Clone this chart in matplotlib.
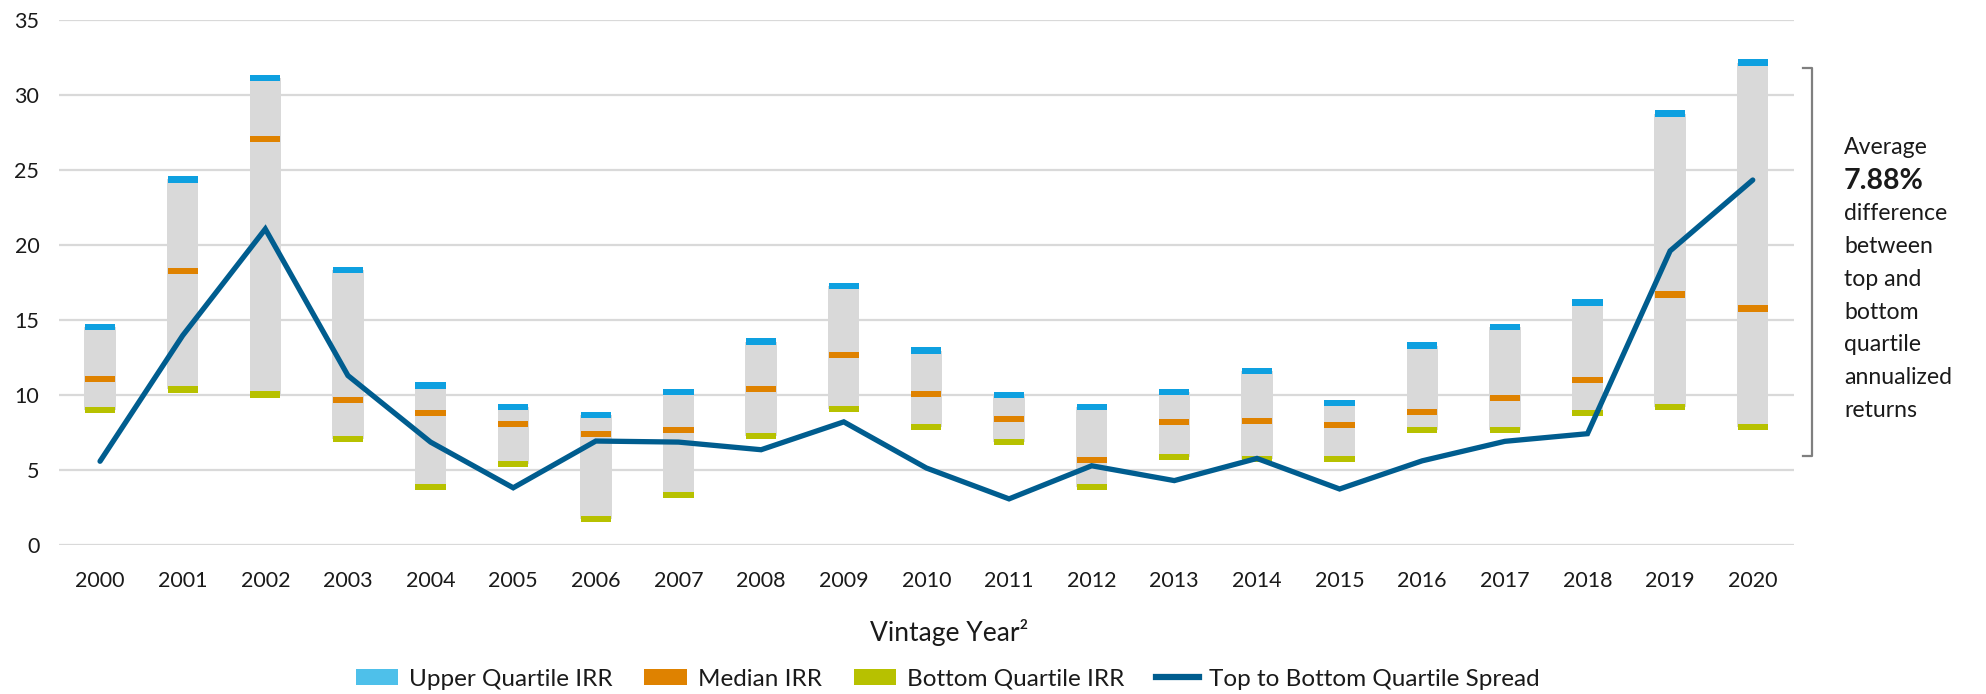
import matplotlib
matplotlib.use("Agg")
import matplotlib.pyplot as plt
import matplotlib.transforms as mtransforms
from matplotlib.patches import Patch
from matplotlib.lines import Line2D
import numpy as np

plt.rcParams['font.family'] = ['Lato', 'DejaVu Sans']

years = ['2000', '2001', '2002', '2003', '2004', '2005', '2006', '2007', '2008', '2009', '2010',
         '2011', '2012', '2013', '2014', '2015', '2016', '2017', '2018', '2019', '2020']
upper_irr = [14.54, 24.37, 31.14, 18.32, 10.62, 9.16, 8.64, 10.16, 13.55, 17.27, 12.95,
             9.96, 9.16, 10.16, 11.57, 9.43, 13.28, 14.54, 16.15, 28.76, 32.17]
median_irr = [11.03, 18.25, 27.08, 9.63, 8.78, 8.03, 7.37, 7.64, 10.36, 12.63, 10.03,
              8.38, 5.64, 8.17, 8.24, 7.98, 8.86, 9.76, 10.97, 16.69, 15.75]
bottom_irr = [8.97, 10.35, 10.02, 7.04, 3.85, 5.37, 1.73, 3.32, 7.26, 9.06, 7.83,
              6.85, 3.86, 5.86, 5.72, 5.72, 7.66, 7.66, 8.78, 9.19, 7.84]
spread = [5.56, 13.95, 21.06, 11.28, 6.84, 3.79, 6.91, 6.84, 6.33, 8.19, 5.11,
          3.05, 5.26, 4.27, 5.75, 3.71, 5.59, 6.89, 7.40, 19.60, 24.33]
y_ticks = [0, 5, 10, 15, 20, 25, 30, 35]
note_lines = ['Average', '7.88%', 'difference', 'between', 'top and', 'bottom',
              'quartile', 'annualized', 'returns']
legend_labels = ['Upper Quartile IRR', 'Median IRR', 'Bottom Quartile IRR',
                 'Top to Bottom Quartile Spread']

C_UP = '#0EA0E0'
C_UP_LEG = '#4EC0EA'
C_MED = '#DF8200'
C_BOT = '#B7C100'
C_LINE = '#005D8F'
C_GRAY = '#D9D9D9'
C_TEXT = '#1A1A1A'

fig = plt.figure(figsize=(19.86, 6.94), dpi=100)
ax = fig.add_axes([0.02956, 0.2153, 0.8738, 0.7557])

x = np.arange(len(years))
up = np.array(upper_irr)
med = np.array(median_irr)
bot = np.array(bottom_irr)

bw = 0.38
mh = 0.42
ax.bar(x, up - bot, bottom=bot, width=bw, color=C_GRAY, zorder=2)
ax.bar(x, mh, bottom=up - mh / 2, width=bw * 0.96, color=C_UP, zorder=3)
ax.bar(x, mh, bottom=med - mh / 2, width=bw * 0.96, color=C_MED, zorder=3)
ax.bar(x, mh, bottom=bot - mh / 2, width=bw * 0.96, color=C_BOT, zorder=3)
ax.plot(x, spread, color=C_LINE, lw=3.8, solid_joinstyle='miter', solid_capstyle='round', zorder=4)

ax.set_xlim(-0.5, len(years) - 0.5)
ax.set_ylim(0, 35)
ax.set_yticks(y_ticks)
ax.set_xticks(x)
ax.set_xticklabels(years)
ax.yaxis.grid(True, color='#D9D9D9', lw=1.6, zorder=0)
ax.set_axisbelow(True)
for s in ax.spines.values():
    s.set_visible(False)
ax.tick_params(axis='both', length=0, labelsize=15.5, colors=C_TEXT)
ax.tick_params(axis='y', pad=14)
ax.tick_params(axis='x', pad=19)

fig.text(0.478, 1 - 632 / 694, 'Vintage Year\u00b2', ha='center', va='center',
         fontsize=19, color=C_TEXT)

# bracket
trans = mtransforms.blended_transform_factory(ax.transAxes, ax.transData)
bx0, bx1 = 1.005, 1.0103
yb0, yb1 = 5.91, 31.8
ax.plot([bx0, bx1, bx1, bx0], [yb1, yb1, yb0, yb0], transform=trans, color='#7F7F7F',
        lw=1.6, clip_on=False)

ty = 26.47
for i, t in enumerate(note_lines):
    if i == 1:
        ax.text(1.0288, ty - 2.19 * i, t, transform=trans, ha='left', va='center',
                fontsize=20.5, fontweight='bold', color=C_TEXT, clip_on=False)
    else:
        ax.text(1.0288, ty - 2.19 * i, t, transform=trans, ha='left', va='center',
                fontsize=16.6, color=C_TEXT, clip_on=False)

handles = [Patch(facecolor=C_UP_LEG), Patch(facecolor=C_MED), Patch(facecolor=C_BOT),
           Line2D([0], [0], color=C_LINE, lw=4.5)]
fig.legend(handles, legend_labels, loc='center', bbox_to_anchor=(0.4773, 1 - 679 / 694),
           ncol=4, frameon=False, fontsize=17.5, handlelength=1.75, handleheight=0.6,
           handletextpad=0.45, columnspacing=1.3, labelcolor=C_TEXT)

fig.savefig('out.png', dpi=100)
